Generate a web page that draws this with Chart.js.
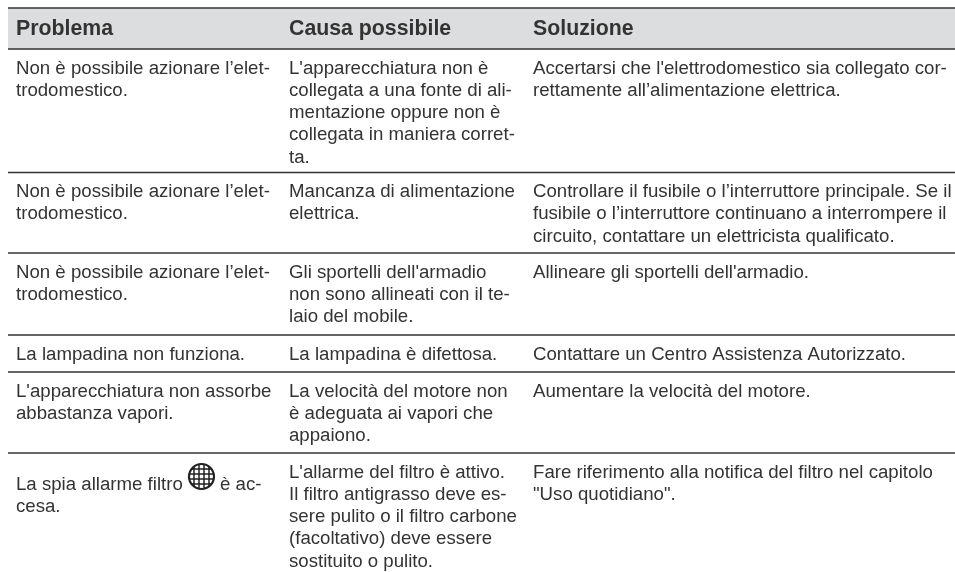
<!DOCTYPE html>
<html>
<head>
<meta charset="utf-8">
<title>Problema / Causa / Soluzione</title>
<script src="https://cdn.jsdelivr.net/npm/chart.js@4/dist/chart.umd.min.js"></script>
<style>
    html, body { margin: 0; padding: 0; background: #fff; }
    canvas { display: block; }
</style>
</head>
<body>
<canvas id="tableChart" width="955" height="572"></canvas>
<script>
// table content, one inner array per wrapped line
const headers = ['Problema', 'Causa possibile', 'Soluzione'];
const problema = [
    ['Non è possibile azionare l’elet-', 'trodomestico.'],
    ['Non è possibile azionare l’elet-', 'trodomestico.'],
    ['Non è possibile azionare l’elet-', 'trodomestico.'],
    ['La lampadina non funziona.'],
    ["L'apparecchiatura non assorbe", 'abbastanza vapori.'],
    ['La spia allarme filtro', 'cesa.']
];
const causa = [
    ["L'apparecchiatura non è", 'collegata a una fonte di ali-', 'mentazione oppure non è', 'collegata in maniera corret-', 'ta.'],
    ['Mancanza di alimentazione', 'elettrica.'],
    ["Gli sportelli dell'armadio", 'non sono allineati con il te-', 'laio del mobile.'],
    ['La lampadina è difettosa.'],
    ['La velocità del motore non', 'è adeguata ai vapori che', 'appaiono.'],
    ["L'allarme del filtro è attivo.", 'Il filtro antigrasso deve es-', 'sere pulito o il filtro carbone', '(facoltativo) deve essere', 'sostituito o pulito.']
];
const soluzione = [
    ["Accertarsi che l'elettrodomestico sia collegato cor-", 'rettamente all’alimentazione elettrica.'],
    ['Controllare il fusibile o l’interruttore principale. Se il', 'fusibile o l’interruttore continuano a interrompere il', 'circuito, contattare un elettricista qualificato.'],
    ["Allineare gli sportelli dell'armadio."],
    ['Contattare un Centro Assistenza Autorizzato.'],
    ['Aumentare la velocità del motore.'],
    ['Fare riferimento alla notifica del filtro nel capitolo', '"Uso quotidiano".']
];
const iconTail = 'è ac-';

// layout, in scale units (the scales run 1:1 with the page)
const ruleY = [8, 49, 172.5, 253, 335, 372, 453];
const columnX = [16, 289, 533];
const lineGap = 22.3;
const firstLineOffset = 24.5;
const textColor = '#333333';

const rulesData = ruleY.map(y => ({
    data: [{ x: 8, y: y }, { x: 955, y: y }],
    showLine: true,
    borderColor: '#333333',
    borderWidth: 1.5,
    pointRadius: 0
}));

const tablePlugin = {
    id: 'tablePlugin',
    beforeDatasetsDraw(chart) {
        const { ctx, scales: { x, y } } = chart;
        ctx.save();
        ctx.fillStyle = '#dcddde';
        ctx.fillRect(x.getPixelForValue(8), y.getPixelForValue(ruleY[0]),
            x.getPixelForValue(955) - x.getPixelForValue(8), y.getPixelForValue(ruleY[1]) - y.getPixelForValue(ruleY[0]));
        ctx.restore();
    },
    afterDatasetsDraw(chart) {
        const { ctx, scales: { x, y } } = chart;
        ctx.save();
        ctx.fillStyle = textColor;
        ctx.textBaseline = 'alphabetic';
        ctx.font = 'bold 21.3px "Liberation Sans"';
        headers.forEach((h, i) => {
            ctx.fillText(h, x.getPixelForValue(columnX[i]), y.getPixelForValue(34.5));
        });
        ctx.font = '18.65px "Liberation Sans"';
        [problema, causa, soluzione].forEach((col, c) => {
            col.forEach((lines, r) => {
                // the icon makes the first text line of the last row sit lower
                const shift = (c === 0 && r === 5) ? 12 : 0;
                lines.forEach((line, l) => {
                    const base = ruleY[r + 1] + firstLineOffset + shift + l * lineGap;
                    ctx.fillText(line, x.getPixelForValue(columnX[c]), y.getPixelForValue(base));
                });
            });
        });
        ctx.fillText(iconTail, x.getPixelForValue(220), y.getPixelForValue(ruleY[6] + firstLineOffset + 12));

        // filter icon
        const cx = x.getPixelForValue(201.5), cy = y.getPixelForValue(476.5), radius = 12.5;
        ctx.strokeStyle = '#222222';
        ctx.lineWidth = 2.2;
        ctx.beginPath();
        ctx.arc(cx, cy, radius, 0, Math.PI * 2);
        ctx.stroke();
        ctx.save();
        ctx.clip();
        ctx.lineWidth = 1.5;
        ctx.beginPath();
        [-7.5, -2.5, 2.5, 7.5].forEach(d => {
            ctx.moveTo(cx + d, cy - radius);
            ctx.lineTo(cx + d, cy + radius);
            ctx.moveTo(cx - radius, cy + d);
            ctx.lineTo(cx + radius, cy + d);
        });
        ctx.stroke();
        ctx.restore();
        ctx.restore();
    }
};

new Chart(document.getElementById('tableChart'), {
    type: 'scatter',
    data: { datasets: rulesData },
    plugins: [tablePlugin],
    options: {
        responsive: false,
        animation: false,
        layout: { padding: 0 },
        plugins: { legend: { display: false }, tooltip: { enabled: false } },
        scales: {
            x: { type: 'linear', display: false, min: 0, max: 955 },
            y: { type: 'linear', display: false, min: 0, max: 572, reverse: true }
        }
    }
});
</script>
</body>
</html>
